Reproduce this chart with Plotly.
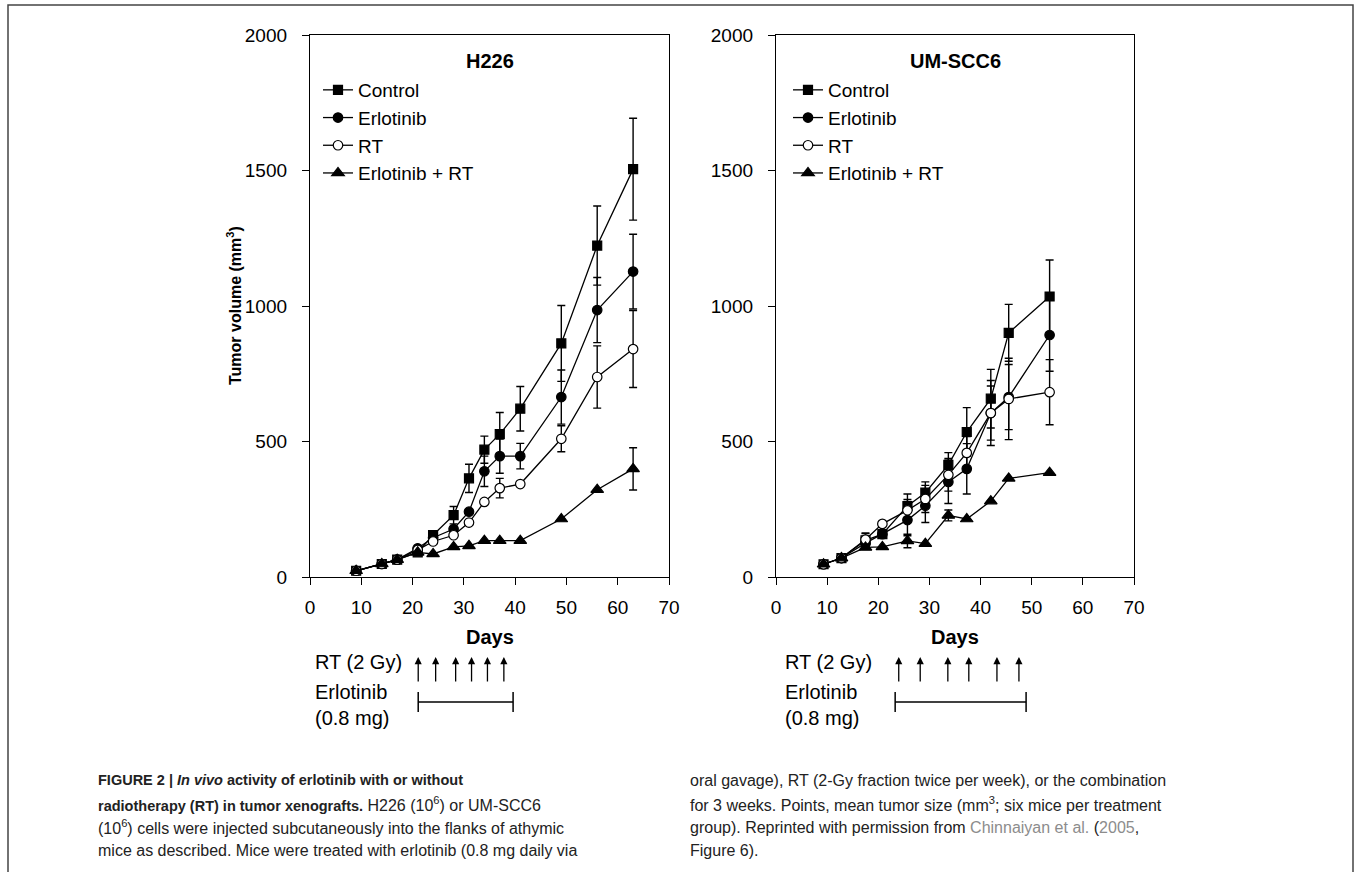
import plotly.graph_objects as go

FONT = "Liberation Sans, Arial, sans-serif"
W, H = 1356, 872

# ---------------- data ----------------
series_names = ["Control", "Erlotinib", "RT", "Erlotinib + RT"]

h226_days = [9, 14, 17, 21, 24, 28, 31, 34, 37, 41, 49, 56, 63]
h226_control = [23, 48, 64, 91, 155, 228, 364, 470, 527, 621, 862, 1223, 1505]
h226_control_err = [None, None, None, None, None, 32, 52, 50, 80, 82, 140, 146, 188]
h226_erlotinib = [23, 48, 64, 106, 145, 177, 241, 390, 446, 446, 664, 985, 1127]
h226_erlotinib_err = [None, None, None, None, None, None, None, 56, 63, 47, 100, 120, 138]
h226_rt = [23, 48, 64, 100, 131, 154, 201, 277, 328, 343, 510, 738, 841]
h226_rt_err = [None, None, None, None, None, None, None, None, 36, None, 48, 115, 142]
h226_combo = [23, 48, 64, 91, 85, 111, 115, 134, 134, 134, 214, 322, 399]
h226_combo_err = [None, None, None, None, None, None, None, None, None, None, None, None, 78]

um_days = [9.3, 12.8, 17.5, 20.8, 25.7, 29.2, 33.7, 37.3, 42, 45.5, 53.5]
um_control = [47, 70, 135, 158, 262, 311, 414, 535, 658, 901, 1035]
um_control_err = [None, None, 25, None, 44, 40, 45, 90, 108, 105, 135]
um_erlotinib = [47, 70, 125, 158, 210, 263, 351, 399, 605, 664, 893]
um_erlotinib_err = [None, None, None, None, 58, 62, 80, 93, 100, 120, 134]
um_rt = [47, 70, 138, 196, 246, 288, 377, 458, 605, 657, 682]
um_rt_err = [None, None, 25, None, 40, 50, 60, 60, 120, 150, 120]
um_combo = [47, 70, 109, 111, 133, 123, 227, 214, 280, 364, 385]
um_combo_err = [None, None, None, None, 25, None, 20, None, None, None, None]

# treatment schedule (days)
h226_rt_days = [21.1, 24.5, 28.4, 31.5, 34.6, 37.8]
h226_erl_span = [21.1, 39.6]
um_rt_days = [24.0, 28.2, 33.6, 37.7, 43.2, 47.5]
um_erl_span = [23.3, 48.9]

x_ticks = [0, 10, 20, 30, 40, 50, 60, 70]
y_ticks = [0, 500, 1000, 1500, 2000]

panel_titles = ["H226", "UM-SCC6"]

BS = "<span style='font-size:14.5px'><b>"
BE = "</b></span>"
caption_left = [
    BS + "FIGURE 2 | <i>In vivo</i> activity of erlotinib with or without" + BE,
    BS + "radiotherapy (RT) in tumor xenografts." + BE + " H226 (10<sup>6</sup>) or UM-SCC6",
    "(10<sup>6</sup>) cells were injected subcutaneously into the flanks of athymic",
    "mice as described. Mice were treated with erlotinib (0.8 mg daily via",
]
caption_right = [
    "oral gavage), RT (2-Gy fraction twice per week), or the combination",
    "for 3 weeks. Points, mean tumor size (mm<sup>3</sup>; six mice per treatment",
    "group). Reprinted with permission from <span style='color:#8c8c8c'>Chinnaiyan et al.</span> (<span style='color:#8c8c8c'>2005</span>,",
    "Figure 6).",
]

# ---------------- helpers ----------------
def px(x):
    return x / W


def py(y):
    return 1 - y / H


styles = {
    "Control": dict(symbol="square", size=9, color="black"),
    "Erlotinib": dict(symbol="circle", size=9.5, color="black"),
    "RT": dict(symbol="circle", size=9.5, color="white"),
    "Erlotinib + RT": dict(symbol="triangle-up", size=11, color="black"),
}

fig = go.Figure()

panels = [
    ("x", "y", "legend", h226_days,
     [h226_control, h226_erlotinib, h226_rt, h226_combo],
     [h226_control_err, h226_erlotinib_err, h226_rt_err, h226_combo_err]),
    ("x2", "y2", "legend2", um_days,
     [um_control, um_erlotinib, um_rt, um_combo],
     [um_control_err, um_erlotinib_err, um_rt_err, um_combo_err]),
]

for xa, ya, lg, days, vals, errs in panels:
    for name, v, e in zip(series_names, vals, errs):
        st = styles[name]
        fig.add_trace(go.Scatter(
            x=days, y=v, name=name, mode="lines+markers",
            xaxis=xa, yaxis=ya, legend=lg,
            line=dict(color="black", width=1.3),
            marker=dict(symbol=st["symbol"], size=st["size"], color=st["color"],
                        line=dict(color="black", width=1.2)),
            error_y=dict(type="data", array=e, visible=True, color="black",
                         thickness=1.4, width=4),
            cliponaxis=False,
        ))

axis_common = dict(
    showgrid=False, zeroline=False, showline=True, linecolor="black", linewidth=1.3,
    mirror=True, ticks="outside", ticklen=7, tickwidth=1.3, tickcolor="black",
    tickfont=dict(family=FONT, size=19, color="black"), automargin=False,
)

y_top, y_bot = 35, 577
fig.update_layout(
    width=W, height=H, autosize=False,
    paper_bgcolor="white", plot_bgcolor="white",
    margin=dict(l=0, r=0, t=0, b=0, pad=0, autoexpand=False),
    showlegend=True,
    xaxis=dict(domain=[px(310), px(669)], range=[0, 70], tickvals=x_ticks,
               anchor="y", ticklabelstandoff=6, **axis_common),
    yaxis=dict(domain=[py(y_bot), py(y_top)], range=[0, 2000], tickvals=y_ticks,
               anchor="x", ticklabelstandoff=11, **axis_common),
    xaxis2=dict(domain=[px(776), px(1134)], range=[0, 70], tickvals=x_ticks,
                anchor="y2", ticklabelstandoff=6, **axis_common),
    yaxis2=dict(domain=[py(y_bot), py(y_top)], range=[0, 2000], tickvals=y_ticks,
                anchor="x2", ticklabelstandoff=11, **axis_common),
    legend=dict(x=px(318), y=py(71), xanchor="left", yanchor="top",
                bgcolor="rgba(0,0,0,0)", borderwidth=0, tracegroupgap=0,
                font=dict(family=FONT, size=19, color="black")),
    legend2=dict(x=px(788), y=py(71), xanchor="left", yanchor="top",
                 bgcolor="rgba(0,0,0,0)", borderwidth=0, tracegroupgap=0,
                 font=dict(family=FONT, size=19, color="black")),
)

ann = []
shapes = []
for i, (xa, title) in enumerate(zip(["x", "x2"], panel_titles)):
    ann.append(dict(text=f"<b>{title}</b>", xref=f"{xa} domain", x=0.5, yref="paper", y=py(61),
                    yanchor="middle", showarrow=False,
                    font=dict(family=FONT, size=20, color="black")))
    ann.append(dict(text="<b>Days</b>", xref=f"{xa} domain", x=0.5, yref="paper", y=py(637),
                    yanchor="middle", showarrow=False,
                    font=dict(family=FONT, size=20, color="black")))

ann.append(dict(text="<b>Tumor volume (mm<sup>3</sup>)</b>", xref="paper", x=px(222), yref="paper",
                y=py(306), textangle=-90, showarrow=False,
                font=dict(family=FONT, size=16, color="black")))

# schedule labels and marks
for xa, lab_x, rt_days, span in [("x", 313, h226_rt_days, h226_erl_span),
                                  ("x2", 783, um_rt_days, um_erl_span)]:
    for txt, yy in [("RT (2 Gy)", 662), ("Erlotinib", 692), ("(0.8 mg)", 718)]:
        ann.append(dict(text=txt, xref="paper", x=px(lab_x), xanchor="left", yref="paper",
                        y=py(yy), yanchor="middle", showarrow=False,
                        font=dict(family=FONT, size=20, color="black")))
    for d in rt_days:
        ann.append(dict(text="", xref=xa, x=d, yref="paper", y=py(657), ax=0, ay=26,
                        showarrow=True, arrowhead=2, arrowsize=1.1, arrowwidth=1.3,
                        arrowcolor="black", standoff=0))
    shapes.append(dict(type="line", xref=xa, x0=span[0], x1=span[1], yref="paper",
                       y0=py(702), y1=py(702), line=dict(color="black", width=1.5)))
    for s in span:
        shapes.append(dict(type="line", xref=xa, x0=s, x1=s, yref="paper",
                           y0=py(692), y1=py(712), line=dict(color="black", width=1.5)))

# caption
for lines, cx in [(caption_left, 96), (caption_right, 688)]:
    for k, line in enumerate(lines):
        ann.append(dict(text=line, xref="paper", x=px(cx), xanchor="left", yref="paper",
                        y=py(780 + k * 23.5), yanchor="middle", showarrow=False, align="left",
                        font=dict(family=FONT, size=16, color="#222222")))

# outer frame (open at the bottom edge of the page)
shapes.append(dict(type="rect", xref="paper", yref="paper", x0=px(8), x1=px(1353),
                   y0=-0.05, y1=py(5), line=dict(color="#444444", width=1.5)))

fig.update_layout(annotations=ann, shapes=shapes)
fig.write_html(
    "out.html",
    config={"displayModeBar": False},
    post_script="document.body.style.margin='0';document.body.style.padding='0';"
                "document.body.style.overflow='hidden';",
)
